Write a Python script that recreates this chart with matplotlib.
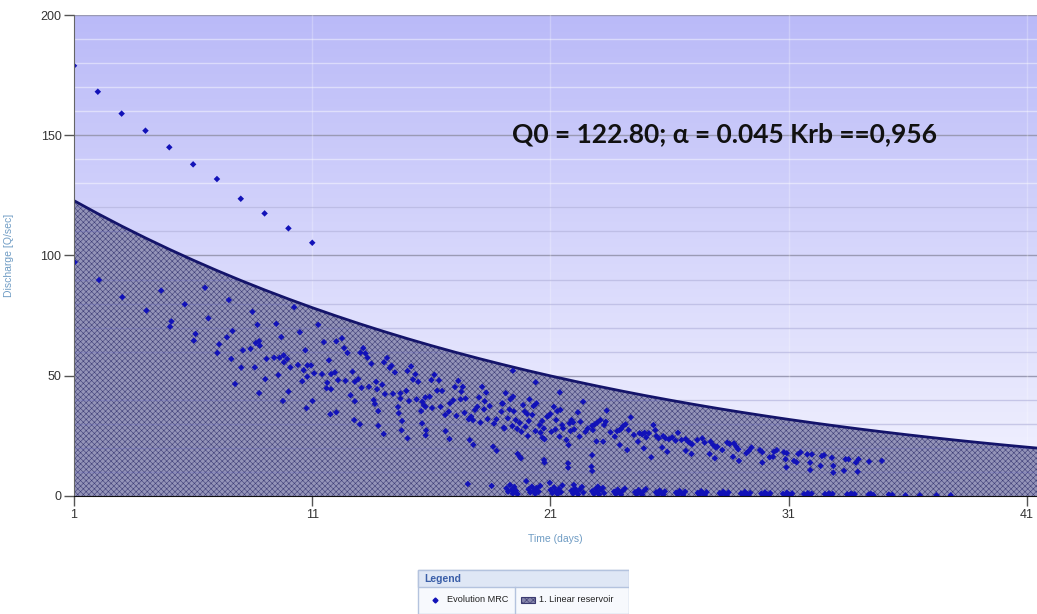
import numpy as np
import matplotlib
matplotlib.use('Agg')
import matplotlib.pyplot as plt
from matplotlib import font_manager
from matplotlib.patches import Rectangle

names = {f.name for f in font_manager.fontManager.ttflist}
narrow = 'Liberation Sans Narrow' if 'Liberation Sans Narrow' in names else 'Liberation Sans'

# linear reservoir curve, read at each day
res_days = list(range(1, 43))
res_q = [122.80, 117.40, 112.23, 107.30, 102.58, 98.07, 93.75, 89.63, 85.69, 81.92,
         78.31, 74.87, 71.57, 68.42, 65.41, 62.53, 59.78, 57.15, 54.64, 52.23,
         49.94, 47.74, 45.64, 43.63, 41.71, 39.88, 38.12, 36.44, 34.84, 33.31,
         31.84, 30.44, 29.10, 27.82, 26.60, 25.43, 24.31, 23.24, 22.22, 21.24,
         20.31, 19.41]

# MRC points (day, Q)
upper_pts = [(1, 178.9), (2, 168.1), (3, 159.0), (4, 151.9), (5, 145.0), (6, 137.9),
             (7, 131.8), (8, 123.6), (9, 117.5), (10, 111.3), (11, 105.3)]

early_pts = [(1.03, 97.2), (2.05, 89.8), (3.03, 82.7), (4.04, 77.1), (4.66, 85.4), (5.65, 79.7),
             (5.09, 72.6), (5.03, 70.4), (6.50, 86.6), (6.64, 73.9), (6.10, 67.4), (6.03, 64.6),
             (7.50, 81.5), (7.65, 68.6), (7.42, 66.0), (7.09, 63.1), (7.02, 59.5), (7.60, 57.0),
             (8.02, 53.4), (8.09, 60.6), (8.41, 61.2), (8.63, 63.6), (8.77, 64.4), (8.80, 62.5),
             (8.49, 76.6), (8.70, 71.2), (8.59, 53.5), (7.76, 46.6), (8.77, 42.8), (9.03, 48.6),
             (9.08, 57.0), (9.40, 57.5), (9.49, 71.6), (9.70, 66.1), (9.63, 57.5), (9.80, 58.5),
             (9.81, 55.6), (9.95, 57.0), (9.58, 50.3), (9.77, 39.5), (10.0, 43.4)]

mid_pts = [(10.24, 78.5), (10.48, 68.1), (11.25, 71.2), (10.08, 53.5), (10.71, 60.6), (10.40, 54.5),
           (10.64, 52.3), (10.80, 54.3), (10.95, 54.3), (10.79, 49.6), (10.58, 47.7), (11.08, 51.0),
           (10.76, 36.5), (11.01, 39.5), (11.49, 64.0), (12.01, 64.3), (12.25, 65.6), (12.34, 61.5),
           (12.48, 59.5), (11.70, 56.4), (11.41, 50.7), (11.79, 50.7), (11.95, 51.4), (11.63, 47.1),
           (11.60, 44.8), (11.79, 44.4), (12.08, 48.2), (12.40, 47.9), (11.76, 34.0), (12.01, 34.8),
           (12.69, 51.7), (12.79, 47.5), (12.93, 48.6), (12.61, 41.9), (12.79, 39.4), (12.76, 31.6),
           (13.0, 29.8), (13.07, 45.0), (13.02, 59.6), (13.14, 61.5), (13.23, 59.3), (13.32, 57.5),
           (13.48, 55.0), (13.38, 45.4), (13.68, 47.5), (13.72, 44.4), (13.94, 46.3), (13.58, 39.9),
           (13.63, 38.3), (13.77, 35.3), (13.77, 29.2), (14.0, 25.8), (14.05, 42.4), (14.01, 55.6),
           (14.14, 57.4), (14.25, 53.3), (14.33, 54.2), (14.47, 51.4), (14.39, 42.5), (14.70, 42.7),
           (14.70, 40.5), (14.95, 43.7), (14.60, 37.0), (14.63, 34.4), (14.77, 31.2), (14.75, 27.3),
           (15.0, 24.0), (15.0, 52.0), (15.15, 53.9), (15.33, 50.6), (15.23, 48.4), (15.45, 47.5),
           (15.06, 39.5), (15.38, 40.2), (15.62, 39.2), (15.68, 37.8), (15.75, 37.1), (15.57, 35.3),
           (15.75, 41.0), (15.93, 41.3), (15.61, 30.2), (15.78, 27.3), (15.76, 25.2), (16.03, 36.6),
           (16.13, 50.4), (16.0, 48.2), (16.32, 48.1), (16.24, 43.8), (16.45, 43.7), (16.39, 37.1),
           (16.58, 33.7), (16.60, 27.0), (16.76, 23.7), (16.73, 35.1), (16.78, 38.5), (16.92, 39.8),
           (17.05, 33.3), (16.99, 45.3), (17.13, 47.9), (17.26, 43.4), (17.32, 45.4), (17.23, 40.2),
           (17.44, 40.5), (17.39, 34.6), (17.57, 31.9), (17.67, 33.0), (17.75, 31.5), (17.61, 23.3),
           (17.76, 21.3), (17.53, 5.0), (18.53, 4.2), (18.0, 41.0), (17.93, 37.1), (17.83, 35.8),
           (18.13, 45.4), (18.30, 43.0), (18.24, 39.4), (18.21, 36.0), (18.06, 30.5), (18.45, 37.4),
           (18.36, 32.0), (18.63, 30.1), (18.73, 31.9), (18.59, 20.5), (18.74, 18.8), (18.97, 38.5),
           (18.94, 35.1), (19.04, 28.4)]

late_pts = [(19.42, 52.1), (20.38, 47.3), (21.39, 43.1), (19.12, 42.8), (19.43, 41.3), (19.32, 40.2),
            (19.00, 38.4), (19.07, 28.1), (19.28, 36.0), (19.46, 35.2), (19.21, 32.3), (19.54, 31.6),
            (19.71, 30.4), (19.40, 29.1), (19.60, 27.9), (19.78, 26.7), (19.85, 37.8), (19.92, 35.1),
            (20.02, 34.1), (20.12, 40.2), (20.29, 37.4), (20.41, 38.5), (20.24, 33.7), (20.09, 31.2),
            (19.95, 28.8), (20.37, 27.0), (20.55, 29.5), (20.65, 31.2), (20.72, 28.1), (20.58, 26.3),
            (20.05, 24.9), (20.66, 24.3), (20.75, 23.6), (20.92, 33.3), (21.0, 34.1), (20.86, 33.0),
            (21.14, 37.1), (21.28, 35.3), (21.42, 35.8), (21.24, 31.6), (21.04, 26.7), (21.21, 27.7),
            (21.38, 24.7), (21.49, 29.5), (21.53, 28.1), (21.67, 23.3), (21.76, 21.2), (21.80, 30.2),
            (21.88, 31.6), (21.95, 30.6), (21.84, 27.0), (22.0, 27.7), (22.15, 34.8), (22.37, 39.2),
            (22.26, 30.9), (22.22, 24.7), (22.47, 26.7), (22.57, 28.1), (22.75, 29.2), (22.86, 29.8),
            (22.96, 30.5), (22.78, 27.4), (22.93, 22.7), (23.10, 31.6), (23.25, 29.5), (23.36, 35.5),
            (23.32, 30.9), (23.21, 22.6), (23.52, 26.5), (23.70, 24.7), (23.80, 27.0), (23.90, 27.4),
            (23.97, 28.0), (23.91, 21.2), (24.05, 29.1), (24.15, 29.8), (24.28, 27.4), (24.37, 32.7),
            (24.22, 19.1), (24.50, 25.4), (24.67, 22.6), (24.74, 26.1), (24.85, 25.6), (24.95, 26.3),
            (25.02, 24.4), (24.92, 19.8), (25.13, 26.1), (25.23, 16.1), (25.32, 29.5), (25.40, 27.4),
            (25.45, 24.9), (25.54, 24.0), (25.73, 24.9), (25.83, 24.0), (25.97, 23.6), (25.69, 20.2),
            (25.90, 18.4), (26.11, 24.4), (26.25, 23.0), (26.35, 26.3), (26.50, 23.3), (26.67, 23.7),
            (26.78, 22.6), (26.88, 21.9), (26.95, 21.5), (26.68, 18.8), (26.92, 17.5), (27.16, 23.3),
            (27.37, 24.0), (27.47, 22.2), (27.72, 22.6), (27.83, 21.2), (27.93, 20.2), (27.68, 17.5),
            (27.90, 15.7), (19.62, 17.5), (19.71, 16.3), (19.76, 15.7), (20.73, 15.0), (20.75, 13.9),
            (21.74, 13.6), (21.74, 11.8), (22.75, 17.0), (22.72, 12.2), (22.75, 10.4), (19.98, 6.2),
            (20.97, 5.5), (21.98, 4.6), (22.99, 3.9)]

tail_pts = [(28.0, 20.5), (28.21, 19.1), (28.42, 22.2), (28.52, 21.6), (28.70, 21.9), (28.80, 20.5),
            (28.88, 19.4), (28.66, 16.3), (28.91, 14.6), (29.22, 17.8), (29.33, 18.8), (29.44, 20.2),
            (29.79, 19.1), (29.89, 18.2), (29.89, 13.9), (30.20, 16.1), (30.34, 16.3), (30.38, 18.4),
            (30.50, 19.1), (30.80, 18.2), (30.92, 17.8), (30.87, 15.3), (30.90, 11.9), (31.22, 14.6),
            (31.33, 14.0), (31.40, 17.5), (31.50, 18.2), (31.78, 17.3), (31.97, 17.3), (31.90, 13.9),
            (31.90, 10.8), (32.34, 12.5), (32.39, 16.6), (32.48, 17.0), (32.81, 15.9), (32.87, 12.5),
            (32.87, 9.7), (33.32, 10.5), (33.39, 15.3), (33.51, 15.3), (33.82, 13.9), (33.93, 15.3),
            (33.89, 10.1), (34.37, 14.3), (34.91, 14.6)]

low_pts = [(19.15, 3.2), (19.22, 1.8), (19.30, 4.6), (19.36, 2.5), (19.42, 1.0), (19.48, 3.8), (19.55, 2.2), (19.62, 0.8),
           (20.08, 2.8), (20.15, 1.5), (20.22, 3.9), (20.30, 2.2), (20.36, 0.9), (20.42, 3.3), (20.50, 1.8), (20.57, 4.2),
           (21.00, 2.5), (21.08, 1.2), (21.15, 3.6), (21.22, 2.0), (21.30, 0.8), (21.36, 3.0), (21.44, 1.6), (21.50, 4.4),
           (21.88, 2.2), (21.95, 1.0), (22.02, 3.2), (22.10, 1.8), (22.16, 0.7), (22.24, 2.8), (22.32, 3.8), (22.38, 1.4),
           (22.75, 2.0), (22.82, 0.9), (22.90, 3.0), (22.97, 1.6), (23.04, 0.6), (23.12, 2.6), (23.20, 3.4), (23.25, 1.2),
           (23.67, 1.8), (23.74, 0.8), (23.82, 2.7), (23.90, 1.4), (23.96, 0.6), (24.04, 2.3), (24.12, 3.1),
           (24.55, 1.6), (24.62, 0.7), (24.70, 2.5), (24.78, 1.3), (24.85, 0.5), (24.92, 2.1), (25.00, 2.9),
           (25.43, 1.5), (25.50, 0.6), (25.58, 2.3), (25.66, 1.2), (25.73, 0.5), (25.80, 1.9),
           (26.27, 1.4), (26.34, 0.6), (26.42, 2.1), (26.50, 1.1), (26.57, 0.4), (26.65, 1.8),
           (27.18, 1.3), (27.25, 0.5), (27.33, 2.0), (27.41, 1.0), (27.48, 0.4), (27.55, 1.6),
           (28.10, 1.2), (28.17, 0.5), (28.25, 1.8), (28.33, 0.9), (28.40, 0.4), (28.47, 1.5),
           (29.00, 1.1), (29.08, 0.4), (29.16, 1.7), (29.24, 0.8), (29.31, 0.3), (29.38, 1.3),
           (29.85, 1.0), (29.93, 0.4), (30.00, 1.5), (30.08, 0.8), (30.16, 0.3), (30.22, 1.2),
           (30.76, 0.9), (30.84, 0.3), (30.92, 1.4), (31.00, 0.7), (31.08, 0.3), (31.14, 1.1),
           (31.64, 0.8), (31.72, 0.3), (31.80, 1.2), (31.88, 0.6), (31.96, 1.0),
           (32.52, 0.8), (32.60, 0.3), (32.68, 1.1), (32.76, 0.5), (32.84, 0.9),
           (33.45, 0.7), (33.53, 0.3), (33.61, 1.0), (33.69, 0.5), (33.77, 0.8),
           (34.35, 0.6), (34.45, 0.9), (34.55, 0.4), (35.20, 0.6), (35.35, 0.5),
           (35.90, 0.3), (36.50, 0.3), (37.20, 0.3), (37.80, 0.3)]

mrc = np.array(upper_pts + early_pts + mid_pts + late_pts + tail_pts + low_pts)

fig = plt.figure(figsize=(10.37, 6.14), dpi=100)
ax = fig.add_axes([74/1037, 118/614, 963/1037, 481/614])
xmax = 41.42

# background gradient, darker at the top
grad = np.linspace(0, 1, 256).reshape(-1, 1)
top = np.array([186, 186, 248]) / 255
bot = np.array([244, 244, 255]) / 255
img = top * (1 - grad[..., None]) + bot * grad[..., None]
img = np.repeat(img, 2, axis=1)
ax.imshow(img, extent=[1, xmax, 0, 200], origin='upper', aspect='auto', zorder=0,
          interpolation='bilinear')

# grid
for v in range(10, 200, 10):
    if v % 50:
        ax.axhline(v, color=(1, 1, 1, 0.45), lw=1.0, zorder=1)
for v in [50, 100, 150, 200]:
    ax.axhline(v, color='#9a9ab4', lw=1.0, zorder=1)
for d in [11, 21, 31, 41]:
    ax.axvline(d, color=(1, 1, 1, 0.25), lw=1.0, zorder=1)

# linear reservoir area
plt.rcParams['hatch.linewidth'] = 0.4
ax.fill_between(res_days, 0, res_q, facecolor='#9494b8', edgecolor='#3f3f78',
                hatch='xxxxxx', lw=0, zorder=2)
ax.plot(res_days, res_q, color='#14146a', lw=2.0, zorder=4)
for v in range(10, 130, 10):
    if v % 50:
        ax.axhline(v, color=(0.45, 0.45, 0.75, 0.35), lw=1.0, zorder=3)

ax.scatter(mrc[:, 0], mrc[:, 1], marker='D', s=11, color='#1212b8', edgecolors='none', zorder=5)

ax.text(19.4, 150.5, 'Q0 = 122.80; α = 0.045 Krb ==0,956', fontsize=19, fontweight='bold',
        family=['Lato', 'DejaVu Sans'], color='#111111', ha='left', va='center', zorder=6)

ax.set_xlim(1, xmax)
ax.set_ylim(0, 200)
ax.set_xticks([1, 11, 21, 31, 41])
ax.set_yticks([0, 50, 100, 150, 200])
ax.tick_params(axis='both', length=7, width=1, color='#555555', labelsize=9,
               labelcolor='#333333', pad=2)
for lab in ax.get_xticklabels() + ax.get_yticklabels():
    lab.set_family(narrow)
for s in ['top', 'right']:
    ax.spines[s].set_visible(False)
ax.spines['left'].set_color('#666666')
ax.spines['bottom'].set_color('#111111')
ax.spines['left'].set_zorder(7)
ax.spines['bottom'].set_zorder(7)

ax.set_xlabel('Time (days)', fontsize=7.5, color='#6f9cc4', family=narrow, labelpad=10)
ax.set_ylabel('Discharge [Q/sec]', fontsize=7.5, color='#6f9cc4', family=narrow, labelpad=19)

# legend box
lg = fig.add_axes([417/1037, 0, 212/1037, 45/614])
lg.set_xlim(0, 212)
lg.set_ylim(45, 0)
lg.axis('off')
lg.add_patch(Rectangle((0.5, 0.5), 211, 44, facecolor='#f7f9fd', edgecolor='#b4c3de', lw=1))
lg.add_patch(Rectangle((0.5, 0.5), 211, 17, facecolor='#dfe7f5', edgecolor='#b4c3de', lw=1))
lg.plot([98, 98], [18, 45], color='#b4c3de', lw=1)
lg.text(7, 9.5, 'Legend', fontsize=7.5, fontweight='bold', color='#3a5ea8', family=narrow,
        va='center', ha='left')
lg.plot([18], [31], marker='D', ms=2.5, color='#1212b8', ls='none')
lg.text(30, 31, 'Evolution MRC', fontsize=6.6, color='#222222', family=narrow, va='center', ha='left')
lg.add_patch(Rectangle((104, 28), 14, 6, facecolor='#8686ac', edgecolor='#3a3a70',
                       hatch='xxxxx', lw=0.8))
lg.text(122, 31, '1. Linear reservoir', fontsize=6.6, color='#222222', family=narrow,
        va='center', ha='left')

fig.savefig('out.png', dpi=100)
